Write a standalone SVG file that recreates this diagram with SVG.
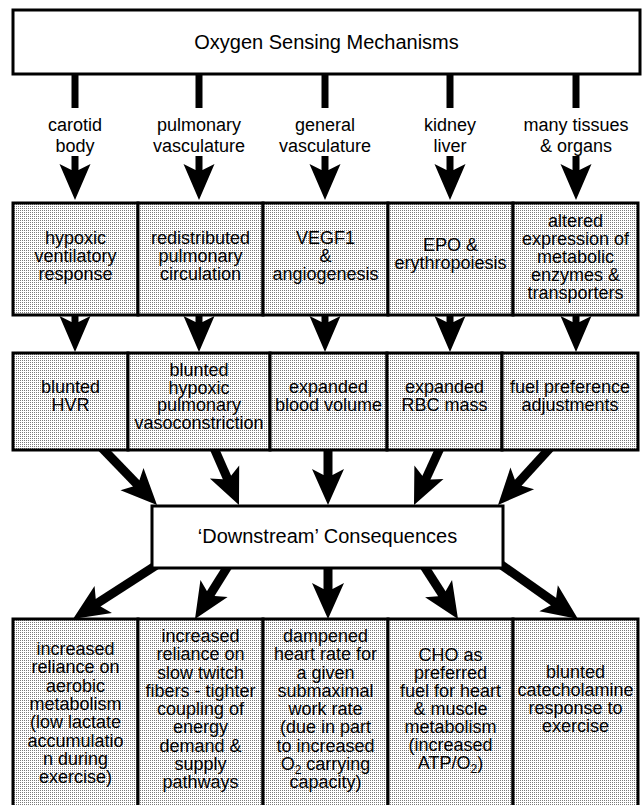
<svg xmlns="http://www.w3.org/2000/svg" width="643" height="805" viewBox="0 0 643 805">
<defs>
<pattern id="dots" width="2" height="2" patternUnits="userSpaceOnUse"><rect width="2" height="2" fill="#fff"/><rect width="1" height="1" fill="#7a7a7a"/></pattern>
<polygon id="head" points="0,0 -16,-36 -4.5,-30 4.5,-30 16,-36" fill="#000"/>
<polygon id="headS" points="0,0 -15.5,-36 -3.5,-30 3.5,-30 15.5,-36" fill="#000"/>
</defs>
<style>
.box{stroke:#000;stroke-width:3}
.plain{fill:#fff}
.shade{fill:url(#dots)}
text{font-family:"Liberation Sans",Arial,Helvetica,sans-serif;font-size:18px;fill:#000;text-anchor:middle}
.title{font-size:20px}
.stem{stroke:#000;stroke-width:7}
.shaft{stroke:#000;stroke-width:9}
.sub{font-size:12px}
</style>
<g id="connectors">
<line class="stem" x1="75" y1="72" x2="75" y2="108"/>
<line class="stem" x1="199" y1="72" x2="199" y2="108"/>
<line class="stem" x1="325" y1="72" x2="325" y2="108"/>
<line class="stem" x1="450" y1="72" x2="450" y2="108"/>
<line class="stem" x1="576" y1="72" x2="576" y2="108"/>
<line class="stem" x1="75" y1="156" x2="75" y2="172"/><use href="#headS" transform="translate(75,200)"/>
<line class="stem" x1="199" y1="156" x2="199" y2="172"/><use href="#headS" transform="translate(199,200)"/>
<line class="stem" x1="325" y1="156" x2="325" y2="172"/><use href="#headS" transform="translate(325,200)"/>
<line class="stem" x1="450" y1="156" x2="450" y2="172"/><use href="#headS" transform="translate(450,200)"/>
<line class="stem" x1="576" y1="156" x2="576" y2="172"/><use href="#headS" transform="translate(576,200)"/>
<line class="stem" x1="75" y1="312" x2="75" y2="325"/><use href="#headS" transform="translate(75,352)"/>
<line class="stem" x1="199" y1="312" x2="199" y2="325"/><use href="#headS" transform="translate(199,352)"/>
<line class="stem" x1="325" y1="312" x2="325" y2="325"/><use href="#headS" transform="translate(325,352)"/>
<line class="stem" x1="450" y1="312" x2="450" y2="325"/><use href="#headS" transform="translate(450,352)"/>
<line class="stem" x1="576" y1="312" x2="576" y2="325"/><use href="#headS" transform="translate(576,352)"/>
<line class="shaft" x1="98" y1="443.8" x2="137.6" y2="484.8"/><use href="#head" transform="translate(157,505) rotate(-44)"/>
<line class="shaft" x1="212.9" y1="445.5" x2="227.8" y2="479.4"/><use href="#head" transform="translate(239,505) rotate(-23.68)"/>
<line class="shaft" x1="328" y1="445" x2="328" y2="477"/><use href="#head" transform="translate(328,505)"/>
<line class="shaft" x1="441" y1="445.9" x2="425.6" y2="479.5"/><use href="#head" transform="translate(414,505) rotate(24.52)"/>
<line class="shaft" x1="555.3" y1="442.2" x2="516.9" y2="484.3"/><use href="#head" transform="translate(498,505) rotate(42.37)"/>
<line class="shaft" x1="157" y1="564.7" x2="96.5" y2="603.8"/><use href="#head" transform="translate(73,619) rotate(57.12)"/>
<line class="shaft" x1="227.8" y1="566.4" x2="209.8" y2="595.2"/><use href="#head" transform="translate(195,619) rotate(31.91)"/>
<line class="shaft" x1="328" y1="566" x2="328" y2="591"/><use href="#head" transform="translate(328,619)"/>
<line class="shaft" x1="424.5" y1="566.8" x2="442.9" y2="595.4"/><use href="#head" transform="translate(458,619) rotate(-32.68)"/>
<line class="shaft" x1="500.4" y1="564.2" x2="555.1" y2="602.8"/><use href="#head" transform="translate(578,619) rotate(-54.75)"/>
</g>
<g id="oxygen-sensing">
<rect class="box plain" x="13" y="10" width="627" height="64"/>
<text class="title" x="326.5" y="49">Oxygen Sensing Mechanisms</text>
</g>
<g id="label-carotid"><text x="75" y="131">carotid</text><text x="75" y="152">body</text></g>
<g id="label-pulmonary"><text x="199" y="131">pulmonary</text><text x="199" y="152">vasculature</text></g>
<g id="label-general"><text x="325" y="131">general</text><text x="325" y="152">vasculature</text></g>
<g id="label-kidney"><text x="450" y="131">kidney</text><text x="450" y="152">liver</text></g>
<g id="label-tissues"><text x="576" y="131">many tissues</text><text x="576" y="152">&amp; organs</text></g>
<g id="hvr-response">
<rect class="box shade" x="13" y="203" width="125" height="112"/>
<text x="75.5" y="244">hypoxic</text><text x="75.5" y="262">ventilatory</text><text x="75.5" y="280">response</text>
</g>
<g id="redistributed">
<rect class="box shade" x="138" y="203" width="125" height="112"/>
<text x="200.5" y="244">redistributed</text><text x="200.5" y="262">pulmonary</text><text x="200.5" y="280">circulation</text>
</g>
<g id="vegf1">
<rect class="box shade" x="263" y="203" width="125" height="112"/>
<text x="325.5" y="244">VEGF1</text><text x="325.5" y="262">&amp;</text><text x="325.5" y="280">angiogenesis</text>
</g>
<g id="epo">
<rect class="box shade" x="388" y="203" width="125" height="112"/>
<text x="450.5" y="251">EPO &amp;</text><text x="450.5" y="269">erythropoiesis</text>
</g>
<g id="altered-expression">
<rect class="box shade" x="513" y="203" width="125" height="112"/>
<text x="575.5" y="227">altered</text><text x="575.5" y="245">expression of</text><text x="575.5" y="263">metabolic</text><text x="575.5" y="281">enzymes &amp;</text><text x="575.5" y="299">transporters</text>
</g>
<g id="blunted-hvr">
<rect class="box shade" x="13" y="353" width="115" height="97"/>
<text x="70.5" y="393">blunted</text><text x="70.5" y="411">HVR</text>
</g>
<g id="blunted-hpv">
<rect class="box shade" x="128" y="353" width="142" height="97"/>
<text x="199" y="376">blunted</text><text x="199" y="393.5">hypoxic</text><text x="199" y="411">pulmonary</text><text x="199" y="428.5">vasoconstriction</text>
</g>
<g id="blood-volume">
<rect class="box shade" x="270" y="353" width="117" height="97"/>
<text x="328.5" y="393">expanded</text><text x="328.5" y="411">blood volume</text>
</g>
<g id="rbc-mass">
<rect class="box shade" x="387" y="353" width="115" height="97"/>
<text x="444.5" y="393">expanded</text><text x="444.5" y="411">RBC mass</text>
</g>
<g id="fuel-preference">
<rect class="box shade" x="502" y="353" width="136" height="97"/>
<text x="570" y="393">fuel preference</text><text x="570" y="411">adjustments</text>
</g>
<g id="downstream">
<rect class="box plain" x="152" y="506" width="351" height="62"/>
<text class="title" x="327.5" y="543">‘Downstream’ Consequences</text>
</g>
<g id="aerobic">
<rect class="box shade" x="13" y="619" width="125" height="192"/>
<text x="75.5" y="655">increased</text><text x="75.5" y="673.3">reliance on</text><text x="75.5" y="691.6">aerobic</text><text x="75.5" y="709.9">metabolism</text><text x="75.5" y="728.2">(low lactate</text><text x="75.5" y="746.5">accumulatio</text><text x="75.5" y="764.8">n during</text><text x="75.5" y="783">exercise)</text>
</g>
<g id="slow-twitch">
<rect class="box shade" x="138" y="619" width="125" height="192"/>
<text x="200.5" y="642">increased</text><text x="200.5" y="660.25">reliance on</text><text x="200.5" y="678.5">slow twitch</text><text x="200.5" y="696.75">fibers - tighter</text><text x="200.5" y="715">coupling of</text><text x="200.5" y="733.25">energy</text><text x="200.5" y="751.5">demand &amp;</text><text x="200.5" y="769.75">supply</text><text x="200.5" y="788">pathways</text>
</g>
<g id="heart-rate">
<rect class="box shade" x="263" y="619" width="125" height="192"/>
<text x="325.5" y="642">dampened</text><text x="325.5" y="660.25">heart rate for</text><text x="325.5" y="678.5">a given</text><text x="325.5" y="696.75">submaximal</text><text x="325.5" y="715">work rate</text><text x="325.5" y="733.25">(due in part</text><text x="325.5" y="751.5">to increased</text><text x="325.5" y="769.75">O<tspan class="sub" dy="4">2</tspan><tspan dy="-4"> carrying</tspan></text><text x="325.5" y="788">capacity)</text>
</g>
<g id="cho-fuel">
<rect class="box shade" x="388" y="619" width="125" height="192"/>
<text x="450.5" y="661">CHO as</text><text x="450.5" y="679">preferred</text><text x="450.5" y="697">fuel for heart</text><text x="450.5" y="715">&amp; muscle</text><text x="450.5" y="733">metabolism</text><text x="450.5" y="751">(increased</text><text x="450.5" y="769">ATP/O<tspan class="sub" dy="4">2</tspan><tspan dy="-4">)</tspan></text>
</g>
<g id="catecholamine">
<rect class="box shade" x="513" y="619" width="125" height="192"/>
<text x="575.5" y="678">blunted</text><text x="575.5" y="696">catecholamine</text><text x="575.5" y="714">response to</text><text x="575.5" y="732">exercise</text>
</g>
</svg>
